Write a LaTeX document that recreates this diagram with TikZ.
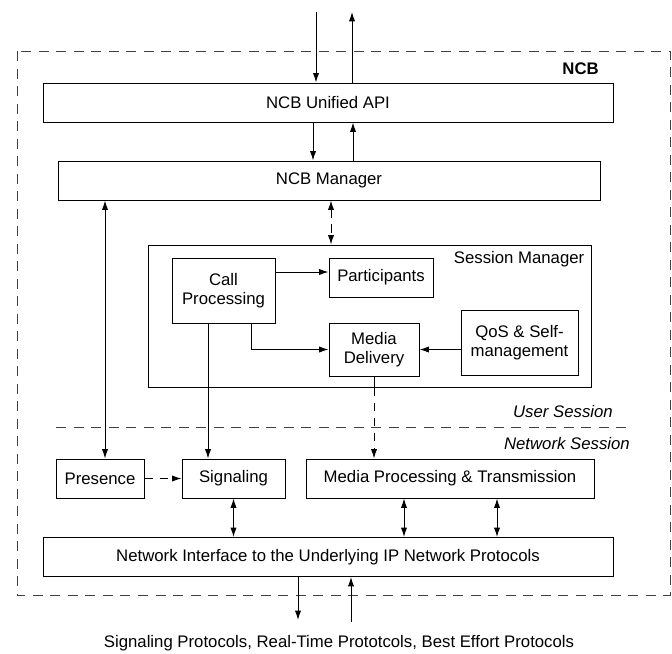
\documentclass[tikz,border=0pt]{standalone}
\usepackage{fontspec}
\setmainfont{Liberation Sans}
\usepackage{tikz}
\usetikzlibrary{arrows.meta, positioning, calc}
\tikzset{
  box/.style={draw, rectangle, line width=0.8pt, inner sep=1pt, align=center, font=\fontsize{13.4}{15.4}\selectfont},
  label/.style={inner sep=0pt, font=\fontsize{13.4}{15.4}\selectfont},
  flow/.style={-{Latex[length=7.5pt,width=5pt]}, line width=0.8pt},
  both/.style={{Latex[length=7.5pt,width=5pt]}-{Latex[length=7.5pt,width=5pt]}, line width=0.8pt},
  dashflow/.style={flow, dash pattern=on 7pt off 5pt},
  dashboth/.style={both, dash pattern=on 7pt off 5pt},
  border/.style={draw, black!75, line width=0.8pt, dash pattern=on 8pt off 6pt},
}

\begin{document}
\begin{tikzpicture}[x=0.8pt, y=-0.8pt]
  \useasboundingbox (0,0) rectangle (672,653);

  % outer frame and session divider
  \draw[border] (17,51) rectangle (670,595);
  \coordinate (divl) at (56,427);
  \coordinate (divr) at (632,427);
  \draw[border] (divl) -- (divr);

  \node[label, anchor=east, font=\fontsize{13.4}{15.4}\selectfont\bfseries] (ncb) at (599,69) {NCB};
  \node[label, anchor=east, font=\fontsize{13.4}{15.4}\selectfont\itshape] (usess) at (613,412) {User Session};
  \node[label, anchor=east, font=\fontsize{13.4}{15.4}\selectfont\itshape] (nsess) at (630,444) {Network Session};

  % upper layer
  \node[box, minimum width=456pt, minimum height=31.2pt] (api) at (328,102.5) {NCB Unified API};
  \node[box, minimum width=433.6pt, minimum height=31.2pt] (mgr) at (329,180.5) {NCB Manager};

  % session manager
  \node[box, minimum width=354.4pt, minimum height=113.6pt] (sm) at (369.5,316) {};
  \node[label, anchor=east] (smlabel) at ($(sm.north east)+(-7,15)$) {Session Manager};
  \node[box, minimum width=82.4pt, minimum height=52pt] (call) at (223.5,290.5) {Call\\Processing};
  \node[box, minimum width=83.2pt, minimum height=31.2pt] (part) at (381,277.5) {Participants};
  \node[box, minimum width=72pt, minimum height=42.4pt] (deliv) at (374,349.5) {Media\\Delivery};
  \node[box, minimum width=93.6pt, minimum height=52pt] (qos) at (519.5,342.5) {QoS \& Self-\\management};

  % network session
  \node[box, minimum width=70.4pt, minimum height=31.2pt] (pres) at (100,478.5) {Presence};
  \node[box, minimum width=82.4pt, minimum height=31.2pt] (sig) at (233.5,478.5) {Signaling};
  \node[box, minimum width=230.4pt, minimum height=31.2pt] (mpt) at (450,478.5) {Media Processing \& Transmission};
  \node[box, minimum width=456pt, minimum height=31.2pt] (ni) at (328,557) {Network Interface to the Underlying IP Network Protocols};

  \node[label] (proto) at (339,643) {Signaling Protocols, Real-Time Prototcols, Best Effort Protocols};

  % columns for vertical connectors
  \coordinate (topin) at (316,12);
  \coordinate (topout) at (352,12);
  \coordinate (cdown) at (313,0);
  \coordinate (cup) at (353,0);
  \coordinate (cpres) at (105,0);
  \coordinate (csm) at (331,0);
  \coordinate (crow) at (0,272);
  \coordinate (ccd) at (251,0);
  \coordinate (csig) at (208,0);
  \coordinate (cm1) at (404,0);
  \coordinate (cm2) at (497,0);
  \coordinate (botout) at (298,620);
  \coordinate (botin) at (351,622);

  \draw[flow] (topin) -- (api.north -| topin);
  \draw[flow] (api.north -| topout) -- (topout);
  \draw[flow] (api.south -| cdown) -- (mgr.north -| cdown);
  \draw[flow] (mgr.north -| cup) -- (api.south -| cup);
  \draw[both] (mgr.south -| cpres) -- (pres.north -| cpres);
  \draw[dashboth] (mgr.south -| csm) -- (sm.north -| csm);

  \draw[flow] (call.east |- crow) -- (part.west |- crow);
  \draw[flow] (call.south -| ccd) |- (deliv.west);
  \draw[flow] (qos.west |- deliv) -- (deliv.east);
  \draw[flow] (call.south -| csig) -- (sig.north -| csig);
  \draw[line width=0.8pt] (deliv.south) -- (deliv.south |- sm.south);
  \draw[dashflow] (deliv.south |- sm.south) -- (deliv.south |- mpt.north);

  \draw[dashflow] (pres.east) -- (sig.west);
  \draw[both] (sig.south) -- (sig.south |- ni.north);
  \draw[both] (mpt.south -| cm1) -- (ni.north -| cm1);
  \draw[both] (mpt.south -| cm2) -- (ni.north -| cm2);

  \draw[flow] (ni.south -| botout) -- (botout);
  \draw[flow] (botin) -- (ni.south -| botin);
\end{tikzpicture}
\end{document}
